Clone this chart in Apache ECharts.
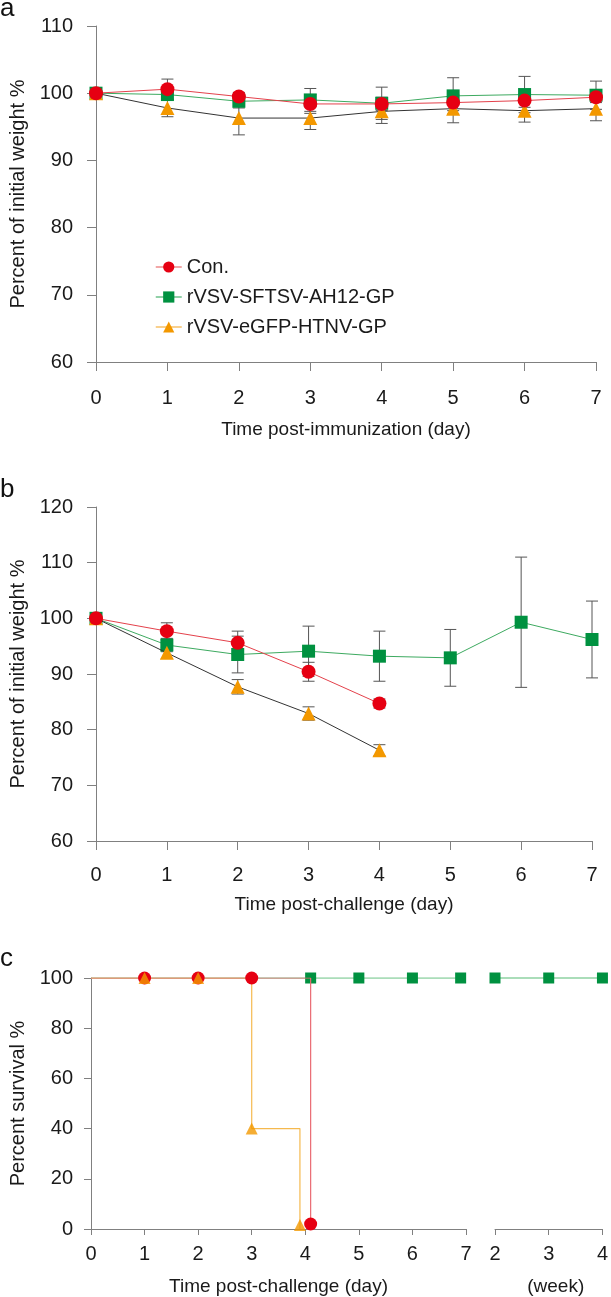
<!DOCTYPE html>
<html>
<head>
<meta charset="utf-8">
<script src="https://cdn.jsdelivr.net/npm/echarts@6/dist/echarts.min.js"></script>
<style>
html,body{margin:0;padding:0;background:#fff;}
#chart{width:611px;height:1297px;}
</style>
</head>
<body>
<div id="chart"></div>
<script>
// ---------- DATA ----------
const seriesNames = ['Con.', 'rVSV-SFTSV-AH12-GP', 'rVSV-eGFP-HTNV-GP'];
const days = [0, 1, 2, 3, 4, 5, 6, 7];

// Panel a: weight after immunization (%)
const aCon      = [100, 100.6, 99.5, 98.4, 98.4, 98.6, 98.9, 99.4];
const aConErr   = [0, 1.5, 0.6, 1.4, 1.0, 1.2, 1.0, 0.8];
const aSftsv    = [100, 99.8, 98.8, 99.0, 98.5, 99.6, 99.8, 99.7];
const aSftsvErr = [0, 0.8, 1.0, 1.7, 2.4, 2.7, 2.7, 2.1];
const aHtnv     = [100, 97.8, 96.3, 96.3, 97.3, 97.7, 97.4, 97.7];
const aHtnvErr  = [0, 1.3, 2.5, 1.7, 1.8, 2.1, 1.7, 1.8];

// Panel b: weight after challenge (%)
const bCon      = [100, 97.7, 95.6, 90.4, 84.7, null, null, null];
const bConErr   = [0, 1.5, 2.1, 1.7, 0.8, null, null, null];
const bSftsv    = [100, 95.2, 93.5, 94.1, 93.2, 92.9, 99.3, 96.2];
const bSftsvErr = [0, 1.2, 3.3, 4.5, 4.5, 5.1, 11.7, 6.9];
const bHtnv     = [100, 93.8, 87.7, 82.9, 76.3, null, null, null];
const bHtnvErr  = [0, 1.0, 1.3, 1.2, 1.0, null, null, null];

// Panel c: survival (%)
const cConDay      = [0, 1, 2, 3, 4.1];
const cConSurv     = [100, 100, 100, 100, 0];
const cHtnvDay     = [0, 1, 2, 3, 3.9];
const cHtnvSurv    = [100, 100, 100, 40, 0];
const cSftsvDay    = [0, 4.1, 5, 6, 6.9];
const cSftsvSurv   = [100, 100, 100, 100, 100];
const cSftsvWeek   = [1, 2, 3, 4];          // week 1 = day 7
const cSftsvWSurv  = [100, 100, 100, 100];

const yTicksA = [60, 110, 10];
const yTicksB = [60, 120, 10];
const yTicksC = [0, 100, 20];

// ---------- STYLE ----------
const FONT = '"Liberation Sans", Arial, Helvetica, sans-serif';
const RED = '#E60012', GREEN = '#009140', ORANGE = '#F39800';
const AX = '#808080', TXT = '#1a1a1a';

function xAxisBase(gi, min, max, name, gap, margin, tick, extraName) {
  return {
    type: 'value', gridIndex: gi, min: min, max: max, interval: 1,
    axisLine: {show: true, lineStyle: {color: AX, width: 1}},
    axisTick: {show: true, length: tick, lineStyle: {color: AX, width: 1}},
    splitLine: {show: false},
    axisLabel: {fontSize: 20, color: TXT, margin: margin, fontFamily: FONT, showMinLabel: true, showMaxLabel: true},
    name: name, nameLocation: 'middle', nameGap: gap,
    nameTextStyle: Object.assign({fontSize: 19, color: TXT, fontFamily: FONT}, extraName || {})
  };
}
function yAxisBase(gi, t, name, gap, margin, tick) {
  return {
    type: 'value', gridIndex: gi, min: t[0], max: t[1], interval: t[2],
    axisLine: {show: true, lineStyle: {color: AX, width: 1}},
    axisTick: {show: true, length: tick, lineStyle: {color: AX, width: 1}},
    splitLine: {show: false},
    axisLabel: {fontSize: 20, color: TXT, margin: margin, fontFamily: FONT, showMinLabel: true, showMaxLabel: true},
    name: name, nameLocation: 'middle', nameGap: gap,
    nameTextStyle: {fontSize: 20, color: TXT, fontFamily: FONT}
  };
}

function pairs(xs, ys) { return xs.map((x, i) => ys[i] == null ? null : [x, ys[i]]).filter(p => p); }

function errSeries(gi, vals, errs) {
  const data = days.map((d, i) => (vals[i] != null && errs[i]) ? [d, vals[i], errs[i]] : null).filter(p => p);
  return {
    type: 'custom', xAxisIndex: gi, yAxisIndex: gi, silent: true, z: 2,
    encode: {x: 0, y: 1},
    data: data,
    renderItem: function (params, api) {
      const x = api.value(0), y = api.value(1), e = api.value(2);
      const top = api.coord([x, y + e]), bot = api.coord([x, y - e]);
      const c = 6, st = {stroke: '#555', lineWidth: 1};
      return {type: 'group', children: [
        {type: 'line', shape: {x1: top[0], y1: top[1], x2: bot[0], y2: bot[1]}, style: st},
        {type: 'line', shape: {x1: top[0] - c, y1: top[1], x2: top[0] + c, y2: top[1]}, style: st},
        {type: 'line', shape: {x1: bot[0] - c, y1: bot[1], x2: bot[0] + c, y2: bot[1]}, style: st}
      ]};
    }
  };
}

function weightSeries(gi, con, sft, htn) {
  return [
    {type: 'line', name: seriesNames[1], xAxisIndex: gi, yAxisIndex: gi, data: pairs(days, sft),
     symbol: 'rect', symbolSize: 13, itemStyle: {color: GREEN}, lineStyle: {color: '#3DAA60', width: 1}, z: 3},
    {type: 'line', name: seriesNames[2], xAxisIndex: gi, yAxisIndex: gi, data: pairs(days, htn),
     symbol: 'triangle', symbolSize: 14, itemStyle: {color: ORANGE}, lineStyle: {color: '#333', width: 1}, z: 4},
    {type: 'line', name: seriesNames[0], xAxisIndex: gi, yAxisIndex: gi, data: pairs(days, con),
     symbol: 'circle', symbolSize: 14, itemStyle: {color: RED}, lineStyle: {color: '#E4414B', width: 1}, z: 5}
  ];
}

function survData(xs, ys, hideFirst, dropOffset) {
  return xs.map((x, i) => {
    const it = {value: [x, ys[i]]};
    if (hideFirst && i === 0) it.symbol = 'none';
    if (ys[i] === 0) it.symbolOffset = [0, -dropOffset];
    return it;
  });
}

const chart = echarts.init(document.getElementById('chart'), null, {renderer: 'canvas'});
const option = {
  animation: false,
  backgroundColor: '#fff',
  textStyle: {fontFamily: FONT},
  grid: [
    {left: 92, top: 26, width: 504, height: 336},
    {left: 92, top: 507, width: 500, height: 334},
    {left: 87, top: 978, width: 379, height: 252},
    {left: 495, top: 978, width: 109, height: 252}
  ],
  xAxis: [
    xAxisBase(0, 0, 7, 'Time post-immunization (day)', 58, 26, 9),
    xAxisBase(1, 0, 7, 'Time post-challenge (day)', 54, 24, 9),
    xAxisBase(2, 0, 7, 'Time post-challenge (day)', 48, 15, 6),
    xAxisBase(3, 2, 4, '(week)', 48, 15, 6, {padding: [0, 0, 0, 14]})
  ],
  yAxis: [
    yAxisBase(0, yTicksA, 'Percent of initial weight %', 68, 23, 9),
    yAxisBase(1, yTicksB, 'Percent of initial weight %', 68, 23, 9),
    yAxisBase(2, yTicksC, 'Percent survival %', 63, 18, 7),
    Object.assign(yAxisBase(3, yTicksC, '', 0, 0, 0), {show: false})
  ],
  legend: {
    orient: 'vertical', left: 150, top: 252, itemWidth: 26, itemHeight: 14, itemGap: 10,
    textStyle: {fontSize: 20, color: TXT, fontFamily: FONT},
    data: [
      {name: seriesNames[0], itemStyle: {color: RED}, lineStyle: {color: '#EE8A8A', width: 1.5}},
      {name: seriesNames[1], itemStyle: {color: GREEN}, lineStyle: {color: '#6CC08A', width: 1.5}},
      {name: seriesNames[2], itemStyle: {color: ORANGE}, lineStyle: {color: '#F7C067', width: 1.5}}
    ]
  },
  graphic: [
    {type: 'text', style: {text: 'a', x: 0, y: 22, fontSize: 26, fill: '#111', fontFamily: FONT, verticalAlign: 'bottom'}},
    {type: 'text', style: {text: 'b', x: 0, y: 503, fontSize: 26, fill: '#111', fontFamily: FONT, verticalAlign: 'bottom'}},
    {type: 'text', style: {text: 'c', x: 0, y: 972, fontSize: 26, fill: '#111', fontFamily: FONT, verticalAlign: 'bottom'}}
  ],
  series: [].concat(
    errSeries(0, aSftsv, aSftsvErr), errSeries(0, aHtnv, aHtnvErr), errSeries(0, aCon, aConErr),
    weightSeries(0, aCon, aSftsv, aHtnv),
    errSeries(1, bSftsv, bSftsvErr), errSeries(1, bHtnv, bHtnvErr), errSeries(1, bCon, bConErr),
    weightSeries(1, bCon, bSftsv, bHtnv),
    [
      // panel c, day part
      {type: 'line', name: seriesNames[1], xAxisIndex: 2, yAxisIndex: 2, step: 'end',
       data: survData(cSftsvDay, cSftsvSurv, true, 0), symbol: 'rect', symbolSize: 11,
       itemStyle: {color: GREEN}, lineStyle: {color: '#8FD2A2', width: 1.5}, z: 2},
      {type: 'line', name: seriesNames[2], xAxisIndex: 2, yAxisIndex: 2, step: 'end',
       data: survData(cHtnvDay, cHtnvSurv, true, 4), showSymbol: false, symbol: 'none',
       lineStyle: {color: '#F5B94E', width: 1.2}, z: 3},
      {type: 'line', name: seriesNames[0], xAxisIndex: 2, yAxisIndex: 2, step: 'end',
       data: survData(cConDay, cConSurv, true, 5), symbol: 'circle', symbolSize: 13,
       itemStyle: {color: RED}, lineStyle: {color: '#EA6A72', width: 1.2}, z: 4},
      {type: 'scatter', name: seriesNames[2], xAxisIndex: 2, yAxisIndex: 2,
       data: survData(cHtnvDay, cHtnvSurv, false, 4).slice(1), symbol: 'triangle', symbolSize: 12,
       itemStyle: {color: ORANGE}, z: 5},
      // panel c, week part
      {type: 'line', name: seriesNames[1], xAxisIndex: 3, yAxisIndex: 3, clip: false,
       data: survData(cSftsvWeek, cSftsvWSurv, true, 0), symbol: 'rect', symbolSize: 11,
       itemStyle: {color: GREEN}, lineStyle: {color: '#8FD2A2', width: 1.5}, z: 2}
    ]
  )
};
chart.setOption(option);
</script>
</body>
</html>
